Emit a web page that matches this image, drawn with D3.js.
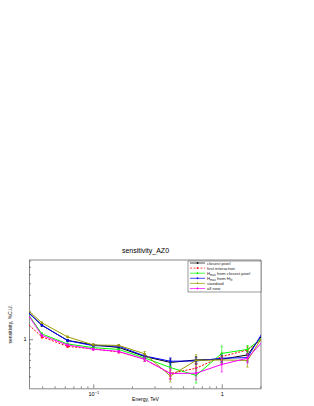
<!DOCTYPE html>
<html>
<head>
<meta charset="UTF-8">
<title>sensitivity_AZ0</title>
<script src="https://cdn.jsdelivr.net/npm/d3@7"></script>
<style>
  body { margin: 0; background: #fff; }
  svg text { font-family: "Liberation Sans", Arial, sans-serif; fill: #000; }
</style>
</head>
<body>
<svg width="314" height="406"></svg>
<script>
const width = 314;
const height = 406;
const frame = {left: 29, right: 261, top: 260, bottom: 388.3};

// energies (TeV), bin centres
const energies = [0.0251, 0.0398, 0.0631, 0.1, 0.158, 0.251, 0.398, 0.631, 1.0, 1.585, 2.512];

// sensitivity, %C.U.
const closestPixel   = [2.63, 1.41, 0.971, 0.868, 0.816, 0.653, 0.563, 0.599, 0.609, 0.678, 1.59];
const firstInteract  = [1.90, 1.06, 0.837, 0.787, 0.730, 0.609, 0.429, 0.488, 0.650, 0.767, 1.23];
const hmaxClosest    = [2.85, 1.14, 0.890, 0.812, 0.777, 0.629, 0.497, 0.408, 0.704, 0.777, 1.27];
const hmaxFit        = [2.52, 1.42, 0.966, 0.853, 0.841, 0.661, 0.580, 0.584, 0.625, 0.634, 1.82];
const standard       = [2.69, 1.50, 1.06, 0.868, 0.858, 0.698, 0.403, 0.592, 0.599, 0.592, 1.61];
const allNew         = [2.85, 1.10, 0.868, 0.781, 0.739, 0.609, 0.429, 0.431, 0.536, 0.625, 1.26];

// errors
const closestPixelErr  = [0.05, 0.03, 0.02, 0.02, 0.02, 0.03, 0.05, 0.05, 0.05, 0.06, 0.12];
const firstInteractErr = [0.04, 0.03, 0.02, 0.02, 0.02, 0.03, 0.05, 0.06, 0.06, 0.06, 0.10];
const hmaxClosestErr   = [0.05, 0.03, 0.02, 0.02, 0.02, 0.03, 0.06, 0.07, 0.14, 0.08, 0.10];
const hmaxFitErr       = [0.05, 0.03, 0.02, 0.02, 0.03, 0.03, 0.05, 0.05, 0.05, 0.06, 0.12];
const standardErr      = [0.05, 0.03, 0.02, 0.02, 0.02, 0.04, 0.055, 0.09, 0.06, 0.09, 0.12];
const allNewErr        = [0.05, 0.03, 0.02, 0.02, 0.02, 0.03, 0.06, 0.065, 0.09, 0.07, 0.10];

const seriesNames = ['closest pixel', 'first interaction', 'Hmax from closest pixel', 'Hmax from Hfit', 'standard', 'all new'];
const seriesColors = ['#000000', '#ff0000', '#00ff00', '#0000ff', '#999900', '#ff00ff'];

const xMajor = [0.1, 1];
const xMinor = [0.04, 0.05, 0.06, 0.07, 0.08, 0.09, 0.2, 0.3, 0.4, 0.5, 0.6, 0.7, 0.8, 0.9, 2];
const yMajor = [1];
const yMinor = [0.4, 0.5, 0.6, 0.7, 0.8, 0.9, 2, 3, 4, 5, 6, 7];

const series = [
  {values: closestPixel, err: closestPixelErr, dash: null, sym: d3.symbolSquare},
  {values: firstInteract, err: firstInteractErr, dash: '2,1.5', sym: d3.symbolCircle},
  {values: hmaxClosest, err: hmaxClosestErr, dash: null, sym: d3.symbolTriangle},
  {values: hmaxFit, err: hmaxFitErr, dash: null, sym: d3.symbolSquare},
  {values: standard, err: standardErr, dash: null, sym: d3.symbolTriangle},
  {values: allNew, err: allNewErr, dash: null, sym: d3.symbolCircle}
].map((s, i) => ({...s, name: seriesNames[i], color: seriesColors[i]}));

const x = d3.scaleLog()
  .domain([0.0316, 2.02])
  .range([frame.left, frame.right]);

const y = d3.scaleLog()
  .domain([0.297, 7.1])
  .range([frame.bottom, frame.top]);

const svg = d3.select('svg');

svg.append('rect').attr('width', width).attr('height', height).attr('fill', '#fff');

svg.append('clipPath').attr('id', 'clip')
  .append('rect')
  .attr('x', frame.left).attr('y', frame.top)
  .attr('width', frame.right - frame.left).attr('height', frame.bottom - frame.top);

// title
svg.append('text')
  .attr('x', 145.5).attr('y', 252.5)
  .attr('text-anchor', 'middle')
  .attr('font-size', 7)
  .text('sensitivity_AZ0');

// axes
const xAxisMinor = g => g
  .attr('transform', `translate(0,${frame.bottom})`)
  .call(d3.axisBottom(x).tickValues(xMinor).tickSize(-2).tickFormat(''))
  .call(g => g.select('.domain').remove());

const xAxis = g => g
  .attr('transform', `translate(0,${frame.bottom})`)
  .call(d3.axisBottom(x).tickValues(xMajor).tickSize(-4).tickSizeOuter(0).tickPadding(3.5)
    .tickFormat(d => d === 1 ? '1' : '10'))
  .call(g => g.selectAll('text').attr('font-size', 5.5))
  .call(g => g.selectAll('.tick').filter(d => d === 0.1).select('text')
    .append('tspan').attr('dy', '-0.45em').attr('font-size', 3.8).text('\u22121'));

const yAxisMinor = g => g
  .attr('transform', `translate(${frame.left},0)`)
  .call(d3.axisLeft(y).tickValues(yMinor).tickSize(-2).tickFormat(''))
  .call(g => g.select('.domain').remove());

const yAxis = g => g
  .attr('transform', `translate(${frame.left},0)`)
  .call(d3.axisLeft(y).tickValues(yMajor).tickSize(-4).tickSizeOuter(0).tickPadding(2.5)
    .tickFormat(d3.format('d')))
  .call(g => g.selectAll('text').attr('font-size', 5.5));

svg.append('g').call(xAxisMinor);
svg.append('g').call(xAxis);
svg.append('g').call(yAxisMinor);
svg.append('g').call(yAxis);

svg.selectAll('.tick line, .domain').attr('stroke', '#555').attr('stroke-width', 0.7);

// frame top / right
svg.append('path')
  .attr('d', `M${frame.left},${frame.top}H${frame.right}V${frame.bottom}`)
  .attr('fill', 'none').attr('stroke', '#555').attr('stroke-width', 0.7);

// axis titles
svg.append('text')
  .attr('x', 145.5).attr('y', 400.5)
  .attr('text-anchor', 'middle')
  .attr('font-size', 5)
  .text('Energy, TeV');

svg.append('text')
  .attr('transform', `translate(11.5,${(frame.top + frame.bottom) / 2}) rotate(-90)`)
  .attr('text-anchor', 'middle')
  .attr('font-size', 5)
  .text('sensitivity, %C.U.');

// data
const plot = svg.append('g').attr('clip-path', 'url(#clip)');
const line = d3.line().x(d => x(d.e)).y(d => y(d.v));

series.forEach(s => {
  const pts = energies.map((e, i) => ({e, v: s.values[i], err: s.err[i]}));
  const g = plot.append('g');

  g.append('path')
    .datum(pts)
    .attr('d', line)
    .attr('fill', 'none')
    .attr('stroke', s.color)
    .attr('stroke-width', 1)
    .attr('stroke-dasharray', s.dash);

  const eb = g.selectAll('g.eb').data(pts).join('g').attr('class', 'eb')
    .attr('stroke', s.color).attr('stroke-width', 0.7);
  eb.append('line')
    .attr('x1', d => x(d.e)).attr('x2', d => x(d.e))
    .attr('y1', d => y(d.v + d.err)).attr('y2', d => y(d.v - d.err));
  eb.append('line')
    .attr('x1', d => x(d.e) - 1.2).attr('x2', d => x(d.e) + 1.2)
    .attr('y1', d => y(d.v + d.err)).attr('y2', d => y(d.v + d.err));
  eb.append('line')
    .attr('x1', d => x(d.e) - 1.2).attr('x2', d => x(d.e) + 1.2)
    .attr('y1', d => y(d.v - d.err)).attr('y2', d => y(d.v - d.err));

  g.selectAll('path.mk').data(pts).join('path').attr('class', 'mk')
    .attr('transform', d => `translate(${x(d.e)},${y(d.v)})`)
    .attr('d', d3.symbol().type(s.sym).size(4))
    .attr('fill', s.color);
});

// legend
const legend = svg.append('g');
legend.append('rect')
  .attr('x', 188).attr('y', 261)
  .attr('width', 73).attr('height', 31)
  .attr('fill', '#fff').attr('stroke', '#555').attr('stroke-width', 0.6);

const items = legend.selectAll('g.item').data(series).join('g').attr('class', 'item')
  .attr('transform', (d, i) => `translate(0,${263 + i * 5.1})`);

items.append('line')
  .attr('x1', 190).attr('x2', 205)
  .attr('stroke', d => d.color).attr('stroke-width', 0.7)
  .attr('stroke-dasharray', d => d.dash);
items.append('path')
  .attr('transform', 'translate(197.5,0)')
  .attr('d', d => d3.symbol().type(d.sym).size(2.5)())
  .attr('fill', d => d.color);

const label = items.append('text')
  .attr('x', 207).attr('y', 1.5)
  .attr('font-size', 4.3)
  .style('fill', '#222');

label.each(function(d) {
  const t = d3.select(this);
  if (d.name === 'Hmax from closest pixel') {
    t.append('tspan').text('H');
    t.append('tspan').attr('dy', 0.9).attr('font-size', 3).text('max');
    t.append('tspan').attr('dy', -0.9).text(' from closest pixel');
  } else if (d.name === 'Hmax from Hfit') {
    t.append('tspan').text('H');
    t.append('tspan').attr('dy', 0.9).attr('font-size', 3).text('max');
    t.append('tspan').attr('dy', -0.9).text(' from H');
    t.append('tspan').attr('dy', 0.9).attr('font-size', 3).text('fit');
  } else {
    t.text(d.name);
  }
});
</script>
</body>
</html>
